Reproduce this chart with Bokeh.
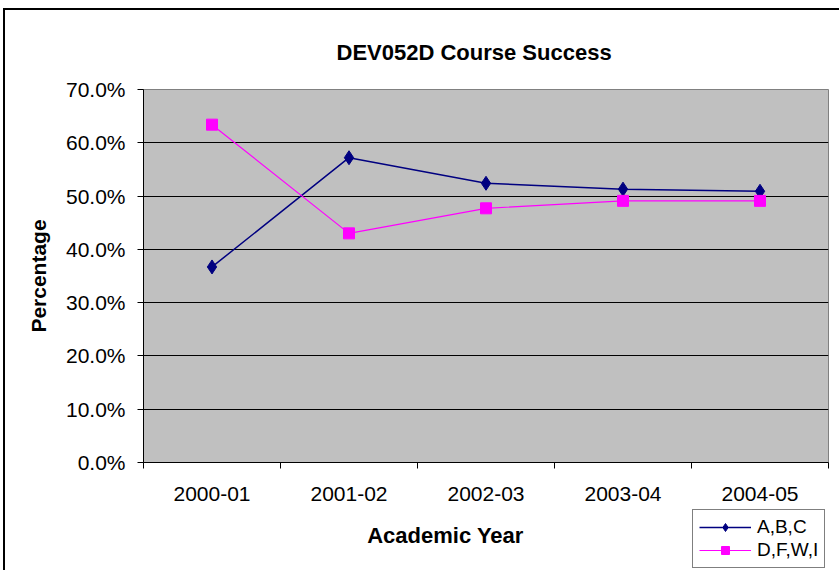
from bokeh.plotting import figure
from bokeh.layouts import column
from bokeh.models import (FixedTicker, NumeralTickFormatter, Legend, LegendItem,
                          Range1d, Label)
from bokeh.embed import file_html
from bokeh.resources import INLINE

# ---- data ----
categories = ["2000-01", "2001-02", "2002-03", "2003-04", "2004-05"]
abc = [0.367, 0.572, 0.524, 0.513, 0.509]
dfwi = [0.634, 0.430, 0.477, 0.491, 0.491]
series_names = ["A,B,C", "D,F,W,I"]
y_ticks = [0.0, 0.1, 0.2, 0.3, 0.4, 0.5, 0.6, 0.7]
chart_title = "DEV052D Course Success"
x_title = "Academic Year"
y_title = "Percentage"

FONT = "Liberation Sans"
NAVY = "#000080"
MAGENTA = "#FF00FF"
xs = list(range(len(categories)))
bounds = [i - 0.5 for i in range(len(categories) + 1)]

W = 834
p = figure(width=W, height=497,
           x_range=Range1d(bounds[0], bounds[-1]),
           y_range=Range1d(y_ticks[0], y_ticks[-1]),
           output_backend="svg", toolbar_location=None,
           min_border_left=138, min_border_right=11,
           min_border_top=79, min_border_bottom=45,
           background_fill_color="#C0C0C0", border_fill_color="white",
           outline_line_color="#808080", outline_line_width=1)

# title
p.title.text = chart_title
p.title.align = "left"
p.title.offset = 193
p.title.text_font = FONT
p.title.text_font_size = "22px"
p.title.text_font_style = "bold"
p.title.text_color = "black"
p.title.standoff = 50

# grid
p.xgrid.visible = False
p.ygrid.ticker = FixedTicker(ticks=y_ticks[1:-1])
p.ygrid.grid_line_color = "black"
p.ygrid.grid_line_width = 1

# x axis
xa = p.xaxis[0]
xa.ticker = FixedTicker(ticks=xs, minor_ticks=bounds)
xa.major_label_overrides = {x: c for x, c in zip(xs, categories)}
xa.major_tick_in = 0
xa.major_tick_out = 0
xa.minor_tick_in = 0
xa.minor_tick_out = 6
xa.minor_tick_line_color = "black"
xa.axis_line_color = "black"
xa.major_label_text_font = FONT
xa.major_label_text_font_size = "21px"
xa.major_label_text_color = "black"
xa.major_label_standoff = 18

# y axis
ya = p.yaxis[0]
ya.ticker = FixedTicker(ticks=y_ticks, minor_ticks=[])
ya.formatter = NumeralTickFormatter(format="0.0%")
ya.major_tick_in = 0
ya.major_tick_out = 6
ya.major_tick_line_color = "black"
ya.axis_line_color = "black"
ya.major_label_text_font = FONT
ya.major_label_text_font_size = "21px"
ya.major_label_text_color = "black"
ya.major_label_standoff = 12
ya.axis_label = y_title
ya.axis_label_text_font = FONT
ya.axis_label_text_font_size = "21px"
ya.axis_label_text_font_style = "bold"
ya.axis_label_text_color = "black"
ya.axis_label_standoff = 13

# series
p.line(xs, abc, line_color=NAVY, line_width=1.5)
p.scatter(xs, abc, marker="diamond", size=14, fill_color=NAVY, line_color=NAVY)
p.line(xs, dfwi, line_color=MAGENTA, line_width=1.2)
p.scatter(xs, dfwi, marker="square", size=11, fill_color=MAGENTA, line_color=MAGENTA)

# bottom strip: x-axis title and legend (legend sits beside the axis title, below the plot).
# The strip's own ranges keep its copies of the series out of view; they only feed the legend.
p2 = figure(width=W, height=63, x_range=Range1d(bounds[0], bounds[-1]),
            y_range=Range1d(10, 11),
            x_axis_type=None, y_axis_type=None,
            output_backend="svg", toolbar_location=None,
            min_border=0, outline_line_color=None,
            background_fill_color="white", border_fill_color="white")

p2.add_layout(Label(x=302, y=35, x_units="screen", y_units="screen",
                    text=x_title, text_align="center", text_baseline="middle",
                    text_font=FONT, text_font_size="22px", text_font_style="bold",
                    text_color="black"))

k1l = p2.line(xs, abc, line_color=NAVY, line_width=1.5)
k1s = p2.scatter(xs, abc, marker="diamond", size=14, fill_color=NAVY, line_color=NAVY)
k2l = p2.line(xs, dfwi, line_color=MAGENTA, line_width=1.2)
k2s = p2.scatter(xs, dfwi, marker="square", size=11, fill_color=MAGENTA, line_color=MAGENTA)

legend = Legend(items=[LegendItem(label=series_names[0], renderers=[k1l, k1s], index=0),
                       LegendItem(label=series_names[1], renderers=[k2l, k2s], index=0)],
                location=(549, 2))
legend.border_line_color = "black"
legend.border_line_width = 1
legend.background_fill_color = "white"
legend.background_fill_alpha = 1
legend.label_text_font = FONT
legend.label_text_font_size = "19px"
legend.label_text_color = "black"
legend.glyph_width = 52
legend.glyph_height = 20
legend.label_height = 20
legend.label_standoff = 6
legend.spacing = 1
legend.padding = 6
legend.margin = 0
p2.add_layout(legend)

layout = column(p, p2, spacing=0)
layout.styles = {"border-left": "2px solid black", "border-top": "2px solid black",
                 "margin-left": "3px", "margin-top": "8px"}

open("out.html", "w").write(file_html(layout, INLINE))
